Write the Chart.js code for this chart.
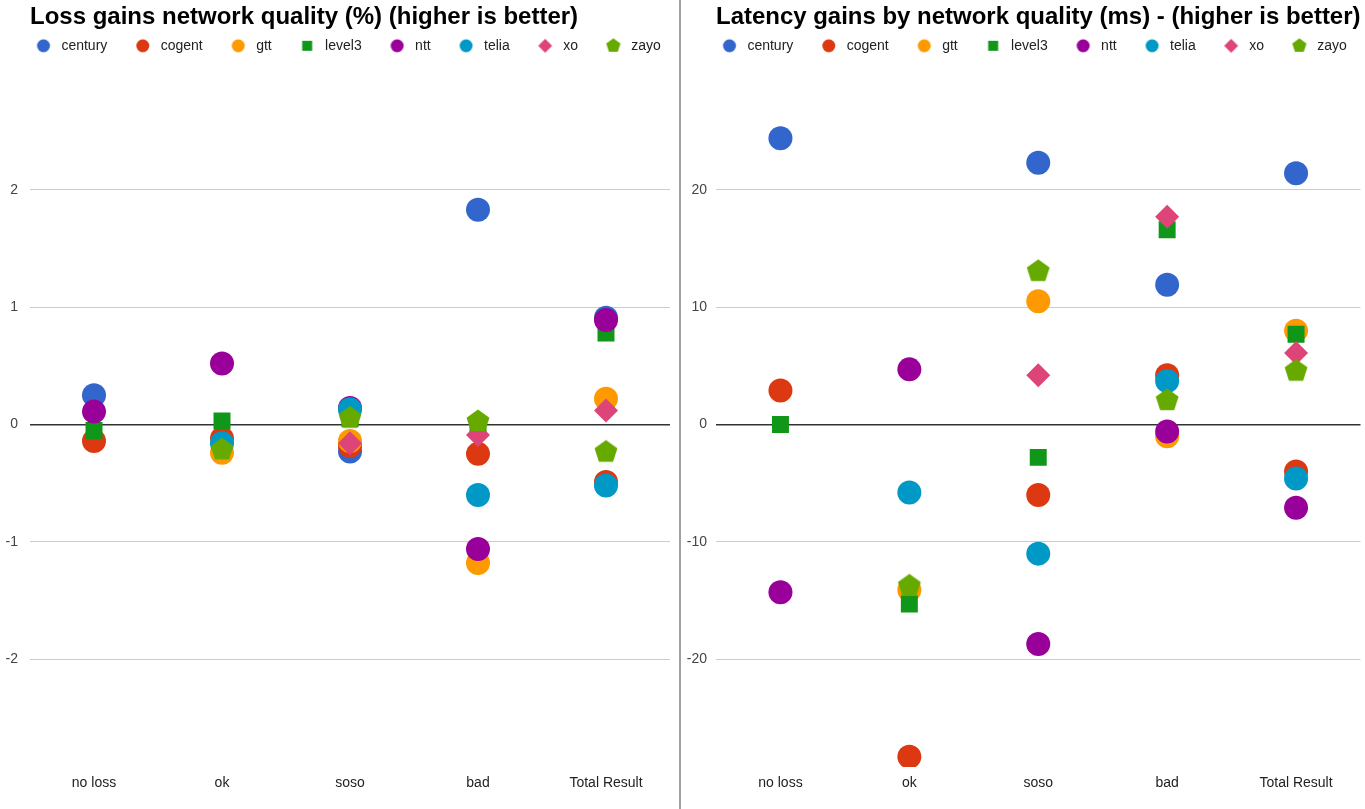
<!DOCTYPE html>
<html>
<head>
<meta charset="utf-8">
<script src="https://cdn.jsdelivr.net/npm/chart.js@4.4.0/dist/chart.umd.min.js"></script>
<style>
  html, body { margin: 0; padding: 0; background: #fff; }
  #wrap { position: relative; width: 1365px; height: 809px; overflow: hidden; }
  #lossBox { position: absolute; left: 0; top: 0; width: 680px; height: 809px; }
  #latBox { position: absolute; left: 682px; top: 0; width: 683px; height: 809px; }
  #divider { position: absolute; left: 679px; top: 0; width: 2px; height: 809px; background: #a0a0a0; }
</style>
</head>
<body>
<div id="wrap">
  <div id="lossBox"><canvas id="lossChart"></canvas></div>
  <div id="divider"></div>
  <div id="latBox"><canvas id="latChart"></canvas></div>
</div>
<script>
var categories = ['no loss', 'ok', 'soso', 'bad', 'Total Result'];
var carriers = ['century', 'cogent', 'gtt', 'level3', 'ntt', 'telia', 'xo', 'zayo'];
var colors = ['#3366cc', '#dc3912', '#ff9900', '#109618', '#990099', '#0099c6', '#dd4477', '#66aa00'];
var shapes = ['circle', 'circle', 'circle', 'square', 'circle', 'circle', 'diamond', 'pentagon'];

// loss gains (%)
var lossCentury = [0.25, null, -0.23, 1.83, 0.91];
var lossCogent  = [-0.14, -0.12, -0.18, -0.25, -0.49];
var lossGtt     = [null, -0.24, -0.14, -1.18, 0.22];
var lossLevel3  = [-0.05, 0.03, 0.05, -0.03, 0.78];
var lossNtt     = [0.11, 0.52, 0.14, -1.06, 0.89];
var lossTelia   = [null, -0.16, 0.13, -0.6, -0.52];
var lossXo      = [null, null, -0.16, -0.09, 0.12];
var lossZayo    = [null, -0.21, 0.06, 0.03, -0.23];
var lossTicks = [-2, -1, 0, 1, 2];

// latency gains (ms)
var latCentury = [24.4, null, 22.3, 11.9, 21.4];
var latCogent  = [2.9, -28.3, -6.0, 4.2, -4.0];
var latGtt     = [null, -14.1, 10.5, -1.0, 8.0];
var latLevel3  = [0.0, -15.3, -2.8, 16.6, 7.7];
var latNtt     = [-14.3, 4.7, -18.7, -0.6, -7.1];
var latTelia   = [null, -5.8, -11.0, 3.7, -4.6];
var latXo      = [null, null, 4.2, 17.7, 6.1];
var latZayo    = [null, -13.7, 13.1, 2.1, 4.6];
var latTicks = [-20, -10, 0, 10, 20];

Chart.defaults.font.family = '"Liberation Sans", Arial, sans-serif';

function drawShape(ctx, shape, x, y, r) {
  ctx.beginPath();
  if (shape === 'circle') {
    ctx.arc(x, y, r, 0, Math.PI * 2);
  } else if (shape === 'square') {
    ctx.rect(x - r, y - r, 2 * r, 2 * r);
  } else if (shape === 'diamond') {
    ctx.moveTo(x, y - r); ctx.lineTo(x + r, y); ctx.lineTo(x, y + r); ctx.lineTo(x - r, y);
  } else {
    for (var k = 0; k < 5; k++) {
      var a = -Math.PI / 2 + k * 2 * Math.PI / 5;
      if (k === 0) ctx.moveTo(x + r * Math.cos(a), y + r * Math.sin(a));
      else ctx.lineTo(x + r * Math.cos(a), y + r * Math.sin(a));
    }
  }
  ctx.closePath();
  ctx.fill();
}

function makeIcon(w, h, cx, cy, shape, color, r) {
  var c = document.createElement('canvas');
  c.width = w; c.height = h;
  var ctx = c.getContext('2d');
  ctx.fillStyle = color;
  drawShape(ctx, shape, cx, cy, r);
  return c;
}

// legend markers sit right of the icon centre so the text gap matches
var legendSizes = { circle: 6.5, square: 5, diamond: 7, pentagon: 7.5 };
var legendIcons = carriers.map(function(name, i) {
  return makeIcon(36, 16, 27.75, 8, shapes[i], colors[i], legendSizes[shapes[i]]);
});
var pentagonPoint = makeIcon(26, 26, 13, 13.5, 'pentagon', colors[7], 12);

function pointStyleFor(i) {
  if (shapes[i] === 'square') return 'rect';
  if (shapes[i] === 'diamond') return 'rectRot';
  if (shapes[i] === 'pentagon') return pentagonPoint;
  return 'circle';
}

// let the y labels use the space left of the axis box
var labelRoom = {
  id: 'labelRoom',
  afterLayout: function(chart) { chart.scales.y.left = 0; }
};

function makeChart(id, titleText, series, ticks, yMin, yMax, pad, tickPad) {
  var datasets = series.map(function(values, i) {
    return {
      label: carriers[i],
      data: values,
      showLine: false,
      order: -i,
      pointStyle: pointStyleFor(i),
      pointRadius: 12,
      pointHoverRadius: 12,
      pointBorderWidth: 0,
      pointBackgroundColor: colors[i],
      backgroundColor: colors[i],
      borderColor: colors[i]
    };
  });

  return new Chart(document.getElementById(id), {
    type: 'line',
    data: { labels: categories, datasets: datasets },
    plugins: [labelRoom],
    options: {
      responsive: true,
      maintainAspectRatio: false,
      animation: false,
      events: [],
      layout: { autoPadding: false, padding: { left: pad.left, right: pad.right, top: 0, bottom: 0 } },
      plugins: {
        tooltip: { enabled: false },
        title: {
          display: true,
          text: titleText,
          align: 'start',
          fullSize: false,
          color: '#000',
          font: { size: 24, weight: 'bold' },
          padding: { top: 3, bottom: 2 }
        },
        legend: {
          display: true,
          position: 'top',
          align: 'start',
          labels: {
            usePointStyle: true,
            pointStyleWidth: 41.4,
            boxHeight: 14,
            padding: 5,
            color: '#222',
            font: { size: 14 },
            generateLabels: function(chart) {
              var items = Chart.defaults.plugins.legend.labels.generateLabels(chart);
              items.sort(function(a, b) { return a.datasetIndex - b.datasetIndex; });
              items.forEach(function(it) {
                it.pointStyle = legendIcons[it.datasetIndex];
                it.fontColor = '#222';
              });
              return items;
            }
          }
        }
      },
      scales: {
        x: {
          type: 'category',
          offset: true,
          grid: { display: false },
          border: { display: false },
          ticks: { color: '#222', font: { size: 14 }, padding: 0, autoSkip: false, maxRotation: 0 },
          afterFit: function(scale) {
            scale.height = 42;
            scale.paddingLeft = 0;
            scale.paddingRight = 0;
          }
        },
        y: {
          min: yMin,
          max: yMax,
          border: { display: false },
          grid: {
            drawTicks: false,
            color: function(c) { return c.tick && c.tick.value === 0 ? '#333' : '#cccccc'; },
            lineWidth: function(c) { return c.tick && c.tick.value === 0 ? 1.5 : 1; }
          },
          ticks: { color: '#444', font: { size: 14 }, padding: tickPad },
          afterBuildTicks: function(scale) {
            scale.ticks = ticks.map(function(v) { return { value: v }; });
          },
          afterFit: function(scale) { scale.width = 22; }
        }
      }
    }
  });
}

makeChart('lossChart', 'Loss gains network quality (%) (higher is better)',
  [lossCentury, lossCogent, lossGtt, lossLevel3, lossNtt, lossTelia, lossXo, lossZayo],
  lossTicks, -2.918, 3.082, { left: 8, right: 10 }, 12);

makeChart('latChart', 'Latency gains by network quality (ms) - (higher is better)',
  [latCentury, latCogent, latGtt, latLevel3, latNtt, latTelia, latXo, latZayo],
  latTicks, -29.18, 30.82, { left: 12, right: 4.5 }, 9);
</script>
</body>
</html>
